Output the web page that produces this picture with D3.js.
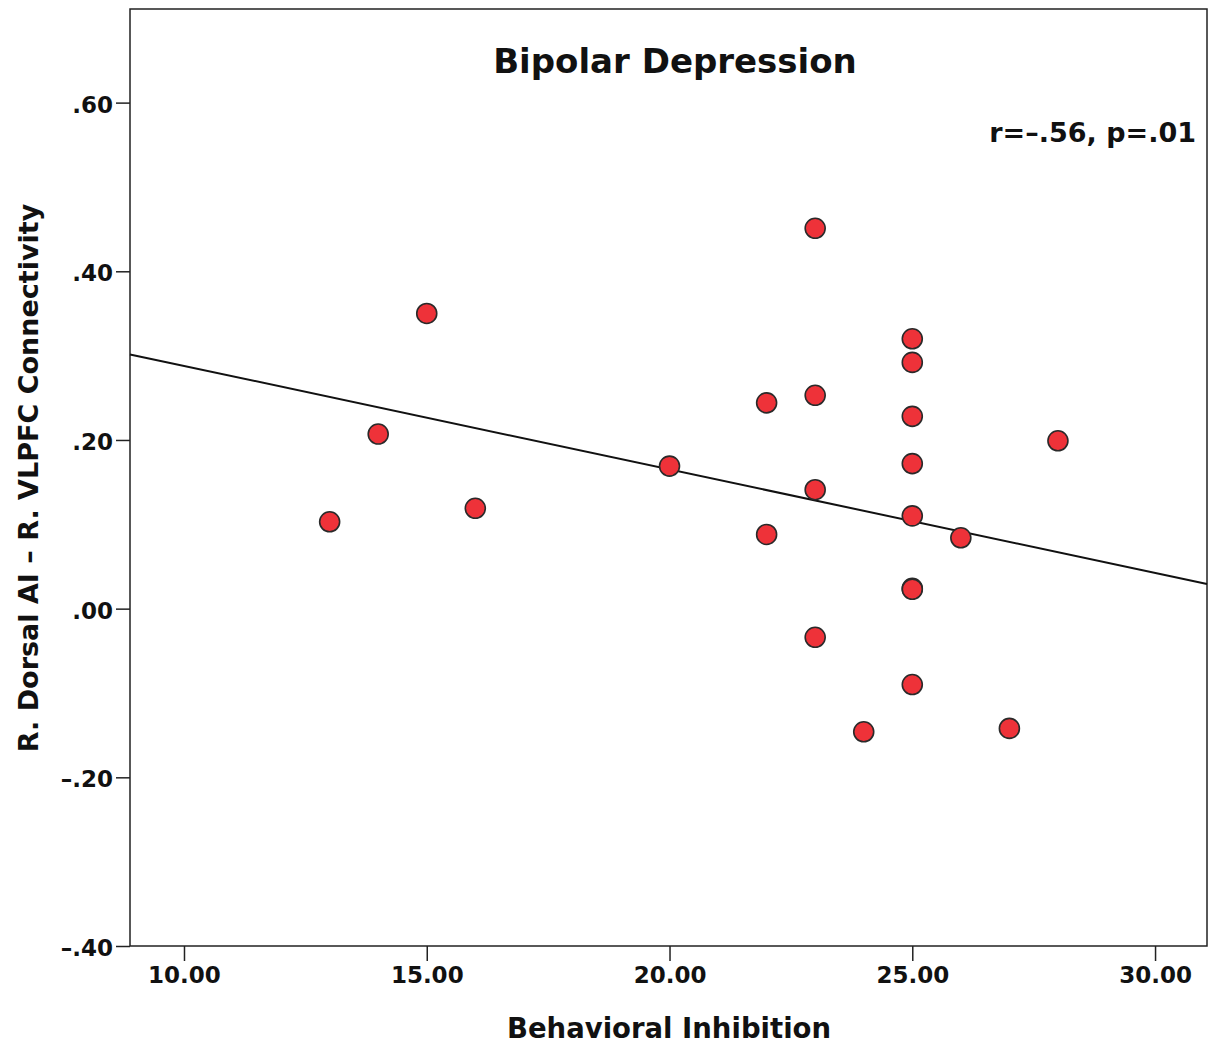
<!DOCTYPE html>
<html>
<head>
<meta charset="utf-8">
<script src="https://cdn.jsdelivr.net/npm/d3@7"></script>
<style>
  body { margin: 0; background: #fff; }
  svg text { font-family: "DejaVu Sans", Verdana, sans-serif; font-weight: bold; fill: #111; }
</style>
</head>
<body>
<div id="chart"></div>
<script>
// Behavioral Inhibition scores
const xVals = [13, 14, 15, 16, 20, 22, 22, 23, 23, 23, 23, 24,
               25, 25, 25, 25, 25, 25, 25, 25, 26, 27, 28];
// R. Dorsal AI - R. VLPFC connectivity
const yVals = [0.103, 0.207, 0.350, 0.119, 0.169, 0.244, 0.088, 0.451, 0.253, 0.141, -0.034, -0.146,
               0.320, 0.292, 0.228, 0.172, 0.110, 0.024, 0.023, -0.090, 0.084, -0.142, 0.199];
const xTicks = [10, 15, 20, 25, 30];
const yTicks = [-0.4, -0.2, 0, 0.2, 0.4, 0.6];
// fit line
const fitIntercept = 0.4105;
const fitSlope = -0.01227;

const W = 1214, H = 1049;
const M = { t: 9, r: 7, b: 103, l: 130 };
const w = W - M.l - M.r, h = H - M.t - M.b;

const svg = d3.select("#chart").append("svg")
  .attr("width", W).attr("height", H);
const g = svg.append("g").attr("transform", `translate(${M.l},${M.t})`);

const x = d3.scaleLinear().domain([8.888, 31.07]).range([0, w]);
const y = d3.scaleLinear().domain([-0.4, 0.711]).range([h, 0]);

// frame
g.append("rect")
  .attr("width", w).attr("height", h)
  .attr("fill", "none").attr("stroke", "#222").attr("stroke-width", 1.5);

// axes: SPSS style ".20", "–.40"
const fmtY = d => {
  const s = Math.abs(d).toFixed(2).replace(/^0\./, ".");
  return (d < 0 ? "\u2013" : "") + s;
};
const yAxis = g.append("g")
  .call(d3.axisLeft(y).tickValues(yTicks).tickSize(14).tickPadding(3).tickFormat(fmtY));
yAxis.select(".domain").remove();
yAxis.selectAll("line").attr("stroke", "#222").attr("stroke-width", 1.5);
yAxis.selectAll("text").style("font-size", "23px").attr("dy", "0.42em");

const xAxis = g.append("g")
  .attr("transform", `translate(0,${h})`)
  .call(d3.axisBottom(x).tickValues(xTicks).tickSize(15).tickPadding(6).tickFormat(d => d.toFixed(2)));
xAxis.select(".domain").remove();
xAxis.selectAll("line").attr("stroke", "#222").attr("stroke-width", 1.5);
xAxis.selectAll("text").style("font-size", "23px");

// fit line
const [x0, x1] = x.domain();
g.append("line")
  .attr("x1", x(x0)).attr("y1", y(fitIntercept + fitSlope * x0))
  .attr("x2", x(x1)).attr("y2", y(fitIntercept + fitSlope * x1))
  .attr("stroke", "#111").attr("stroke-width", 2);

// points
g.selectAll("circle.pt")
  .data(xVals.map((v, i) => ({ x: v, y: yVals[i] })))
  .join("circle")
  .attr("class", "pt")
  .attr("cx", d => x(d.x))
  .attr("cy", d => y(d.y))
  .attr("r", 10)
  .attr("fill", "#ee3239")
  .attr("stroke", "#2a2a2a")
  .attr("stroke-width", 1.6);

// titles
svg.append("text")
  .attr("x", 675).attr("y", 73)
  .attr("text-anchor", "middle")
  .style("font-size", "34px")
  .text("Bipolar Depression");

svg.append("text")
  .attr("x", 1196).attr("y", 142)
  .attr("text-anchor", "end")
  .style("font-size", "27px")
  .text("r=\u2013.56, p=.01");

svg.append("text")
  .attr("x", 669).attr("y", 1038)
  .attr("text-anchor", "middle")
  .style("font-size", "27.5px")
  .text("Behavioral Inhibition");

svg.append("text")
  .attr("transform", `translate(38,478) rotate(-90)`)
  .attr("text-anchor", "middle")
  .style("font-size", "27px")
  .text("R. Dorsal AI \u2013 R. VLPFC Connectivity");
</script>
</body>
</html>
